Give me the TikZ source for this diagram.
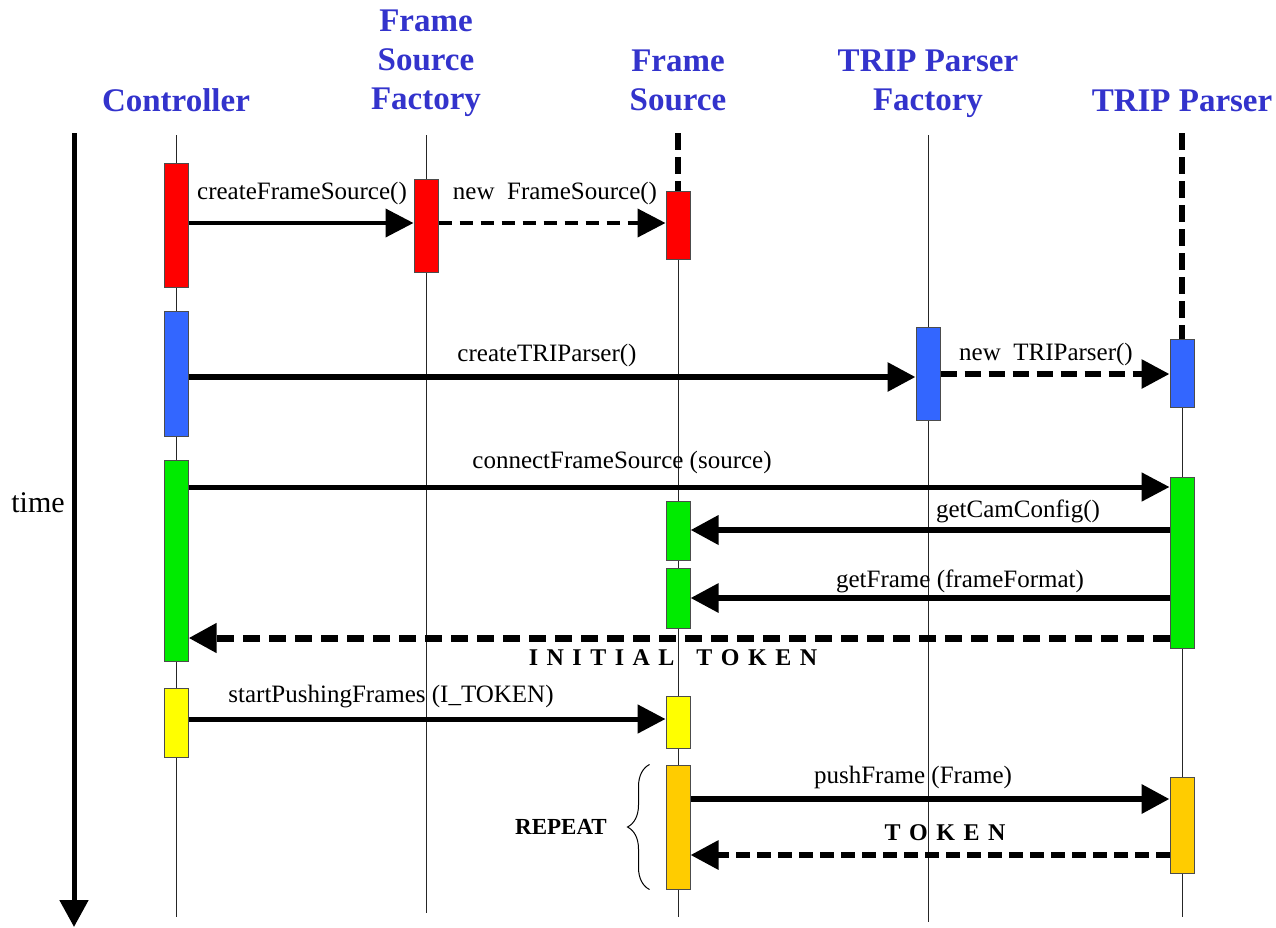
\documentclass[tikz,border=0pt]{standalone}
\usepackage{fontspec}
\setmainfont{Liberation Serif}
\usetikzlibrary{arrows.meta,calc,decorations.pathreplacing}
\definecolor{headblue}{RGB}{51,51,204}
\definecolor{actred}{RGB}{255,0,0}
\definecolor{actblue}{RGB}{51,102,255}
\definecolor{actgreen}{RGB}{0,235,0}
\definecolor{actyellow}{RGB}{255,255,0}
\definecolor{actorange}{RGB}{255,204,0}
\newcommand\tokenspacing{\spaceskip=8.5pt\relax}
\begin{document}
\begin{tikzpicture}[x=1pt,y=-1pt,
  head/.style={text=headblue,font=\bfseries\fontsize{33}{39}\selectfont,align=center,inner sep=0pt,anchor=base},
  msglabel/.style={font=\fontsize{25}{29}\selectfont,inner sep=0pt,anchor=base},
  toklabel/.style={font=\bfseries\fontsize{24}{28}\selectfont,inner sep=0pt,anchor=base},
  lifeline/.style={line width=1pt,draw=black!85},
  creation/.style={line width=6.5pt,dash pattern=on 17pt off 7pt},
  act/.style={draw=black!70,line width=1pt,fill=#1,minimum width=24pt,inner sep=0pt},
  tip/.style={-{Triangle[length=28pt,width=28pt]}},
  call/.style={tip,line width=#1},
  reply/.style={tip,line width=#1,dash pattern=on 16pt off 8pt},
  axis/.style={line width=5pt,-{Triangle[length=27pt,width=28pt]}}
]
\useasboundingbox (0,0) rectangle (1276,927);

% time axis
\coordinate (time-top) at (74,133);
\coordinate (time-end) at (74,927);
\draw[axis] (time-top) -- (time-end);
\node[font=\fontsize{30}{34}\selectfont,inner sep=0pt,anchor=base] (timelbl) at (38,512) {time};

% object heads (base anchor sits on the last line)
\node[head] (hC)   at (176,111) {Controller};
\node[head] (hFSF) at (426,109) {Frame\\Source\\Factory};
\node[head] (hFS)  at (678,110) {Frame\\Source};
\node[head] (hTPF) at (928,110) {TRIP Parser\\Factory};
\node[head] (hTP)  at (1182,111){TRIP Parser};

% lifelines
\coordinate (c-top) at (176,135);   \coordinate (c-bot) at (176,917);
\coordinate (f-top) at (426,135);   \coordinate (f-bot) at (426,913);
\coordinate (s-top) at (678,133);   \coordinate (s-new) at (678,191);  \coordinate (s-bot) at (678,917);
\coordinate (p-top) at (928,135);   \coordinate (p-bot) at (928,922);
\coordinate (t-top) at (1182,133);  \coordinate (t-new) at (1182,339); \coordinate (t-bot) at (1182,917);
\draw[lifeline] (c-top) -- (c-bot);
\draw[lifeline] (f-top) -- (f-bot);
\draw[lifeline] (s-new) -- (s-bot);
\draw[lifeline] (p-top) -- (p-bot);
\draw[lifeline] (t-new) -- (t-bot);
\draw[creation] (s-top) -- (s-new);
\draw[creation] (t-top) -- (t-new);

% activation bars
\node[act=actred,    minimum height=124pt] (c1) at (176,225)   {};
\node[act=actblue,   minimum height=125pt] (c2) at (176,373.5) {};
\node[act=actgreen,  minimum height=201pt] (c3) at (176,560.5) {};
\node[act=actyellow, minimum height=69pt]  (c4) at (176,722.5) {};
\node[act=actred,    minimum height=93pt]  (f1) at (426,225.5) {};
\node[act=actred,    minimum height=68pt]  (s1) at (678,225)   {};
\node[act=actgreen,  minimum height=59pt]  (s2) at (678,530.5) {};
\node[act=actgreen,  minimum height=60pt]  (s3) at (678,598)   {};
\node[act=actyellow, minimum height=52pt]  (s4) at (678,722)   {};
\node[act=actorange, minimum height=124pt] (s5) at (678,827)   {};
\node[act=actblue,   minimum height=93pt]  (p1) at (928,373.5) {};
\node[act=actblue,   minimum height=68pt]  (t1) at (1182,373)  {};
\node[act=actgreen,  minimum height=171pt] (t2) at (1182,562.5){};
\node[act=actorange, minimum height=96pt]  (t3) at (1182,825)  {};

% message levels
\coordinate (m1) at (0,223);
\coordinate (m2) at (0,223);
\coordinate (m3) at (0,377);
\coordinate (m4) at (0,374);
\coordinate (m5) at (0,487);
\coordinate (m6) at (0,530);
\coordinate (m7) at (0,598);
\coordinate (m8) at (0,638);
\coordinate (m9) at (0,719);
\coordinate (m10) at (0,799);
\coordinate (m11) at (0,855);

% messages
\draw[call=4pt] (c1.east |- m1) -- (f1.west |- m1);
\draw[tip,line width=4pt,dash pattern=on 13pt off 8pt] (f1.east |- m2) -- (s1.west |- m2);
\draw[call=6pt] (c2.east |- m3) -- (p1.west |- m3);
\draw[reply=6pt] (p1.east |- m4) -- (t1.west |- m4);
\draw[call=5pt] (c3.east |- m5) -- (t2.west |- m5);
\draw[call=6.5pt] (t2.west |- m6) -- (s2.east |- m6);
\draw[call=6pt] (t2.west |- m7) -- (s3.east |- m7);
\draw[reply=7pt,dash pattern=on 17pt off 9pt] (t2.west |- m8) -- (c3.east |- m8);
\draw[call=5pt] (c4.east |- m9) -- (s4.west |- m9);
\draw[call=6.5pt] (s5.east |- m10) -- (t3.west |- m10);
\draw[reply=6pt,dash pattern=on 14pt off 7pt] (t3.west |- m11) -- (s5.east |- m11);

% message labels
\node[msglabel] (l1)  at (302,199)  {createFrameSource()};
\node[msglabel] (l2)  at (555,199)  {new\ \ FrameSource()};
\node[msglabel] (l3)  at (547,361)  {createTRIParser()};
\node[msglabel] (l4)  at (1046,360) {new\ \ TRIParser()};
\node[msglabel] (l5)  at (622,468)  {connectFrameSource (source)};
\node[msglabel] (l6)  at (1018,517) {getCamConfig()};
\node[msglabel] (l7)  at (960,587)  {getFrame (frameFormat)};
\node[toklabel] (l8)  at (673,665)  {\tokenspacing I N I T I A L\hspace{22pt}T O K E N};
\node[msglabel] (l9)  at (391,702)  {startPushingFrames (I\_TOKEN)};
\node[msglabel] (l10) at (913,783)  {pushFrame (Frame)};
\node[toklabel] (l11) at (945,840)  {\tokenspacing T O K E N};

% repeated block
\draw[line width=1pt,decorate,decoration={brace,amplitude=22pt,aspect=0.5}]
  ($(s5.south west)+(-16,0)$) -- ($(s5.north west)+(-16,0)$);
\node[font=\bfseries\fontsize{23}{27}\selectfont,inner sep=0pt,anchor=base] (rep) at (561,834) {REPEAT};
\end{tikzpicture}
\end{document}
